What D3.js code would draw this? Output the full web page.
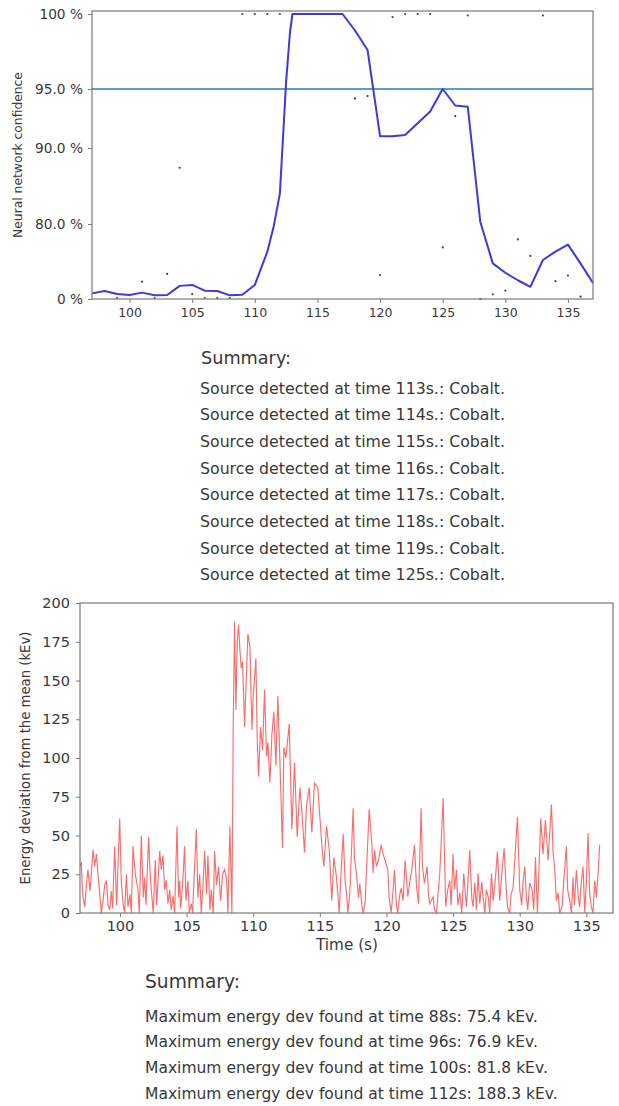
<!DOCTYPE html>
<html><head><meta charset="utf-8">
<script src="https://cdn.jsdelivr.net/npm/d3@7/dist/d3.min.js"></script>
<style>
html,body{margin:0;padding:0;background:#fff;}
svg{display:block;font-family:"DejaVu Sans",sans-serif;}
</style></head>
<body>
<svg id="c" width="619" height="1106"></svg>
<script>
// ---------- DATA ----------
const confTime = [97,98,99,100,101,102,103,104,105,106,107,108,109,110,111,111.5,112,112.5,112.8,113,114,115,116,117,118,119,120,121,122,123,124,125,126,127,128,129,130,131,132,133,134,135,136,137];
const confValue = [6,8.5,5.3,4.3,6.8,3.9,4.3,14,15,8.9,8.5,3.9,4.5,15,50.5,77,84,95.5,98.7,100,100,100,100,100,98.9,97.6,91,91,91.1,92.1,93.1,95,93.6,93.5,80.3,38,28,20,13,41.6,50.5,58,38,17];
const rawTime = [99,101,102,103,104,105,106,107,108,109,110,111,112,118,119,120,121,122,123,124,125,126,127,128,129,130,131,132,133,134,135,136];
const rawValue = [1,18.5,1,26.7,87.4,5.3,1,1,1,100,100,100,100,94.2,94.4,25.6,99.8,100,100,100,55,92.7,99.9,0,5,9,63.6,46,99.9,19,25,2.5];
const thresholdValue = 95;
const confYTicks = [0,80,90,95,100];
const confYTickLabels = ["0 %","80.0 %","90.0 %","95.0 %","100 %"];
const xTicks = [100,105,110,115,120,125,130,135];
const energyYTicks = [0,25,50,75,100,125,150,175,200];

const energyTime = [97.0,97.1,97.2,97.35,97.5,97.6,97.75,97.98,98.1,98.23,98.35,98.48,98.6,98.73,98.85,98.98,99.1,99.23,99.35,99.45,99.6,99.75,99.98,100.1,100.23,100.35,100.48,100.6,100.75,100.85,100.98,101.15,101.35,101.45,101.6,101.75,101.85,101.95,102.15,102.25,102.35,102.5,102.65,102.75,102.98,103.1,103.23,103.35,103.48,103.6,103.73,103.85,103.98,104.1,104.28,104.4,104.48,104.55,104.7,104.85,104.95,105.1,105.2,105.35,105.45,105.6,105.73,105.85,105.98,106.1,106.22,106.35,106.5,106.6,106.75,106.85,107.0,107.1,107.25,107.4,107.55,107.7,107.85,108.0,108.1,108.25,108.4,108.5,108.6,108.7,108.8,108.9,109.0,109.1,109.2,109.35,109.45,109.6,109.75,109.9,110.0,110.2,110.3,110.4,110.55,110.7,110.85,111.0,111.1,111.25,111.4,111.55,111.7,111.85,112.0,112.2,112.3,112.45,112.7,112.9,113.1,113.3,113.5,113.65,113.85,114.0,114.2,114.4,114.6,114.85,115.0,115.15,115.3,115.5,115.7,115.9,116.05,116.25,116.45,116.6,116.75,116.9,117.0,117.1,117.25,117.5,117.6,117.75,117.9,118.0,118.15,118.25,118.4,118.7,118.9,119.0,119.1,119.25,119.4,119.6,119.75,119.9,120.1,120.2,120.35,120.5,120.6,120.75,120.85,121.0,121.1,121.25,121.4,121.6,121.75,121.9,122.1,122.25,122.4,122.6,122.7,122.85,123.05,123.15,123.25,123.5,123.6,123.75,123.9,124.0,124.25,124.45,124.6,124.75,124.85,125.0,125.1,125.25,125.35,125.5,125.65,125.8,126.0,126.1,126.25,126.4,126.5,126.63,126.75,126.88,127.0,127.15,127.25,127.38,127.5,127.63,127.75,127.88,128.0,128.15,128.33,128.5,128.65,128.83,129.0,129.1,129.25,129.35,129.5,129.83,130.0,130.15,130.25,130.38,130.5,130.6,130.75,130.93,131.05,131.18,131.33,131.58,131.75,131.93,132.13,132.38,132.5,132.63,132.75,132.88,133.0,133.18,133.3,133.5,133.6,133.75,133.88,134.0,134.1,134.25,134.4,134.5,134.6,134.75,134.88,135.0,135.13,135.25,135.38,135.5,135.63,135.75,135.88,136.0];
const energyValue = [30,33,12,4,20,28,14,41,30,38,25,12.6,0,8,18,21,5,2,14,3,43,5,61,20,6,0,25,4,12,0,43,25,15,0,50,10,23,5,49,28,15,0,34,5,40,28,37,15,21,6,15,2,11,0,56,10,21,3,18,43,8,21,0,6,0,30,54,10,25,0,15,40,12,37,2,15,0,40,18,30,8,25,28,22,0,56,0,120,188,131,175,186,170,158,162,120,145,180,172,118,140,164,112,88,120,105,144,101,110,84,115,130,95,140,99,42,107,100,122,54,97,49,81,66,39,69,81,52,84,81,62,44,30,56,41,8,36,23,0,28,51,20,13,0,13,67.5,35,25.6,10,19,5,0,7,67,45,25.6,40.6,30,34,44,38,34,27.7,10,0,15,27.7,5,0,12,16,8,34,10.5,20,27.7,44,18,6,67.5,30,19,30,12,6,10.5,2,0,15,25.6,74,4,15,21,5,38,15,27.7,5,13,0,25.6,4,18,40.6,10,4,19.5,2,25.6,6,20,10.5,0,15,10.5,0,25.6,8,20,39.6,8,25,41.7,13,3,0,12,16,62,15,5,20,30,10.5,2,19.5,15,2,36,0,61,38,60,34,70,40,27.7,8,13,0,4,20,43,15,8,0,23,5,27.7,10,4,18,30,0,20,51.4,12,4,0,21,10,25,44];

const summaryTop = ["Source detected at time 113s.: Cobalt.","Source detected at time 114s.: Cobalt.","Source detected at time 115s.: Cobalt.","Source detected at time 116s.: Cobalt.","Source detected at time 117s.: Cobalt.","Source detected at time 118s.: Cobalt.","Source detected at time 119s.: Cobalt.","Source detected at time 125s.: Cobalt."];
const summaryBottom = ["Maximum energy dev found at time 88s: 75.4 kEv.","Maximum energy dev found at time 96s: 76.9 kEv.","Maximum energy dev found at time 100s: 81.8 kEv.","Maximum energy dev found at time 112s: 188.3 kEv."];

// ---------- DRAW ----------
const svg = d3.select("#c");
const axisCol = "#7a7a7a", textCol = "#383838";

function fitSize(sel, target, base){
  sel.attr("font-size", base);
  const w = sel.node().getComputedTextLength();
  const s = base * target / w;
  sel.attr("font-size", s.toFixed(2));
  return s;
}

// ===== Top chart =====
const T = {l:92, r:593, t:11, b:299};
const xT = d3.scaleLinear().domain([97,137]).range([T.l, T.r]);
const yT = d3.scaleLinear().domain([0,80,90,95,100]).range([299,224,148,89,14]);
const gT = svg.append("g");

gT.append("line").attr("x1",T.l).attr("x2",T.r)
  .attr("y1",yT(thresholdValue)).attr("y2",yT(thresholdValue))
  .attr("stroke","#2b7bba").attr("stroke-width",1.3);

gT.append("path").datum(confTime.map((t,i)=>[t,confValue[i]]))
  .attr("fill","none").attr("stroke","#3a3ae0").attr("stroke-width",2)
  .attr("stroke-linejoin","round")
  .attr("d", d3.line().x(d=>xT(d[0])).y(d=>yT(d[1])));

gT.selectAll("circle.raw").data(rawTime.map((t,i)=>[t,rawValue[i]])).enter()
  .append("circle").attr("class","raw")
  .attr("cx",d=>xT(d[0])).attr("cy",d=>yT(d[1])).attr("r",1.1).attr("fill","#444");

gT.append("rect").attr("x",T.l).attr("y",T.t).attr("width",T.r-T.l).attr("height",T.b-T.t)
  .attr("fill","none").attr("stroke",axisCol).attr("stroke-width",1.2);

const axTx = gT.append("g").attr("transform",`translate(0,${T.b})`)
  .call(d3.axisBottom(xT).tickValues(xTicks).tickSize(4).tickPadding(5).tickFormat(d3.format("d")));
const axTy = gT.append("g").attr("transform",`translate(${T.l},0)`)
  .call(d3.axisLeft(yT).tickValues(confYTicks).tickSize(4).tickPadding(5).tickFormat((d,i)=>confYTickLabels[i]));
[axTx,axTy].forEach(a=>{
  a.select(".domain").remove();
  a.selectAll("line").attr("stroke",axisCol);
  a.selectAll("text").attr("fill",textCol).attr("font-size",12.5).attr("font-family","DejaVu Sans");
});
// y tick labels sized to the reference width of "95.0 %"
{
  const lab = axTy.selectAll("text").filter((d)=>d===95);
  const fs = fitSize(lab, 48, 12);
  axTy.selectAll("text").attr("font-size", fs.toFixed(2));
}

const ylT = svg.append("text").attr("transform","translate(18,155) rotate(-90)")
  .attr("text-anchor","middle").attr("dominant-baseline","central").attr("fill",textCol)
  .text("Neural network confidence");
fitSize(ylT,166,11);

// Summary top
const sT = svg.append("text").attr("x",201).attr("y",364).attr("fill",textCol).text("Summary:");
fitSize(sT,90,13);
let fsTop = null;
summaryTop.forEach((s,i)=>{
  const t = svg.append("text").attr("x",200).attr("y",393.5+i*26.67).attr("fill",textCol).text(s);
  if(fsTop===null) fsTop = fitSize(t,305,12); else t.attr("font-size",fsTop.toFixed(2));
});

// ===== Bottom chart =====
const B = {l:80, r:613, t:603, b:913};
const xB = d3.scaleLinear().domain([97,137]).range([B.l,B.r]);
const yB = d3.scaleLinear().domain([0,200]).range([B.b,B.t]);
const gB = svg.append("g");

gB.append("path").datum(energyTime.map((t,i)=>[t,energyValue[i]]))
  .attr("fill","none").attr("stroke","#ff1010").attr("stroke-opacity",0.62).attr("stroke-width",1.15)
  .attr("d", d3.line().x(d=>xB(d[0])).y(d=>yB(d[1])));

gB.append("rect").attr("x",B.l).attr("y",B.t).attr("width",B.r-B.l).attr("height",B.b-B.t)
  .attr("fill","none").attr("stroke",axisCol).attr("stroke-width",1.2);

const axBx = gB.append("g").attr("transform",`translate(0,${B.b})`)
  .call(d3.axisBottom(xB).tickValues(xTicks).tickSize(4).tickPadding(4).tickFormat(d3.format("d")));
const axBy = gB.append("g").attr("transform",`translate(${B.l},0)`)
  .call(d3.axisLeft(yB).tickValues(energyYTicks).tickSize(4).tickPadding(6).tickFormat(d3.format("d")));
[axBx,axBy].forEach(a=>{
  a.select(".domain").remove();
  a.selectAll("line").attr("stroke",axisCol);
  a.selectAll("text").attr("fill",textCol).attr("font-size",14.5).attr("font-family","DejaVu Sans");
});

const xlB = svg.append("text").attr("x",347).attr("y",950).attr("text-anchor","middle").attr("fill",textCol).text("Time (s)");
fitSize(xlB,62,13);
const ylB = svg.append("text").attr("transform","translate(25,758) rotate(-90)")
  .attr("text-anchor","middle").attr("dominant-baseline","central").attr("fill",textCol)
  .text("Energy deviation from the mean (kEv)");
fitSize(ylB,253,13);

// Summary bottom
const sB = svg.append("text").attr("x",145).attr("y",988).attr("fill",textCol).text("Summary:");
fitSize(sB,95,14);
let fsB = null;
summaryBottom.forEach((s,i)=>{
  const t = svg.append("text").attr("x",145).attr("y",1021.5+i*25.9).attr("fill",textCol).text(s);
  if(fsB===null) fsB = fitSize(t,393,12); else t.attr("font-size",fsB.toFixed(2));
});
</script>
</body></html>
